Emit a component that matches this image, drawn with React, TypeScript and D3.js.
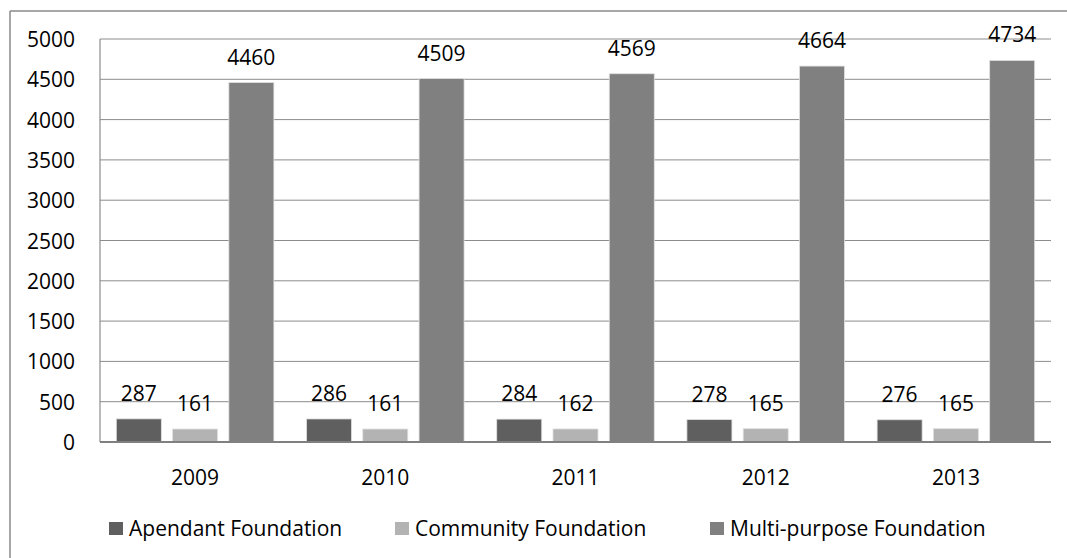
import React from "react";
import * as d3 from "d3";

const years = ["2009", "2010", "2011", "2012", "2013"];
const seriesNames = ["Apendant Foundation", "Community Foundation", "Multi-purpose Foundation"];
const apendant = [287, 286, 284, 278, 276];
const community = [161, 161, 162, 165, 165];
const multipurpose = [4460, 4509, 4569, 4664, 4734];
const seriesColors = ["#5f5f5f", "#b3b3b3", "#808080"];
const yTicks = [0, 500, 1000, 1500, 2000, 2500, 3000, 3500, 4000, 4500, 5000];

const W = 1067;
const H = 558;
const plot = { left: 100, right: 1051, top: 39, bottom: 442 };
const FONT = "'Open Sans', sans-serif";
const FS = 21;

export default function App() {
  const seriesValues = [apendant, community, multipurpose];
  const x0 = d3.scaleBand<string>().domain(years).range([plot.left, plot.right]).paddingInner(0).paddingOuter(0);
  const x1 = d3
    .scaleBand<string>()
    .domain(seriesNames)
    .range([0, x0.bandwidth()])
    .paddingInner(0.2)
    .paddingOuter(0.29);
  const y = d3.scaleLinear().domain([0, 5000]).range([plot.bottom, plot.top]);

  const legendX = [109, 395, 710];

  return (
    <svg
      width={W}
      height={H}
      style={{ position: "absolute", left: 0, top: 0, background: "#fff" }}
      fontFamily={FONT}
    >
      <rect x={0} y={0} width={W} height={H} fill="#fff" />
      {/* outer frame */}
      <line x1={10} y1={11} x2={W} y2={11} stroke="#8a8a8a" strokeWidth={1.5} />
      <line x1={10} y1={11} x2={10} y2={H} stroke="#8a8a8a" strokeWidth={1.5} />

      {/* gridlines */}
      {yTicks.map((t) => (
        <line
          key={"g" + t}
          x1={plot.left}
          x2={plot.right}
          y1={y(t)}
          y2={y(t)}
          stroke="#8c8c8c"
          strokeWidth={1}
        />
      ))}
      {/* y axis line */}
      <line x1={plot.left} x2={plot.left} y1={plot.top} y2={plot.bottom} stroke="#8c8c8c" strokeWidth={1.2} />

      {/* y tick labels */}
      {yTicks.map((t) => (
        <text
          key={"yt" + t}
          x={75}
          y={y(t)}
          textAnchor="end"
          dominantBaseline="central"
          fontSize={FS}
          fill="#000"
        >
          {t}
        </text>
      ))}

      {/* bars */}
      {years.map((yr, i) => (
        <g key={yr}>
          {seriesNames.map((s, j) => {
            const v = seriesValues[j][i];
            const bx = (x0(yr) as number) + (x1(s) as number);
            const bw = x1.bandwidth();
            return (
              <g key={s}>
                <rect
                  x={bx}
                  y={y(v)}
                  width={bw}
                  height={y(0) - y(v)}
                  fill={seriesColors[j]}
                  stroke="#e0e0e0"
                  strokeWidth={0.8}
                />
                <text
                  x={bx + bw / 2}
                  y={y(v) - 26}
                  textAnchor="middle"
                  dominantBaseline="central"
                  fontSize={FS}
                  fill="#000"
                >
                  {v}
                </text>
              </g>
            );
          })}
        </g>
      ))}

      {/* x axis */}
      <line x1={plot.left} x2={plot.right} y1={plot.bottom} y2={plot.bottom} stroke="#808080" strokeWidth={2} />
      {years.map((yr) => (
        <text
          key={"xl" + yr}
          x={(x0(yr) as number) + x0.bandwidth() / 2}
          y={477}
          textAnchor="middle"
          dominantBaseline="central"
          fontSize={FS}
          fill="#000"
        >
          {yr}
        </text>
      ))}

      {/* legend */}
      {seriesNames.map((s, j) => (
        <g key={"lg" + s}>
          <rect x={legendX[j]} y={522} width={14} height={13} fill={seriesColors[j]} />
          <text x={legendX[j] + 20} y={528} dominantBaseline="central" fontSize={FS} fill="#000">
            {s}
          </text>
        </g>
      ))}
    </svg>
  );
}
